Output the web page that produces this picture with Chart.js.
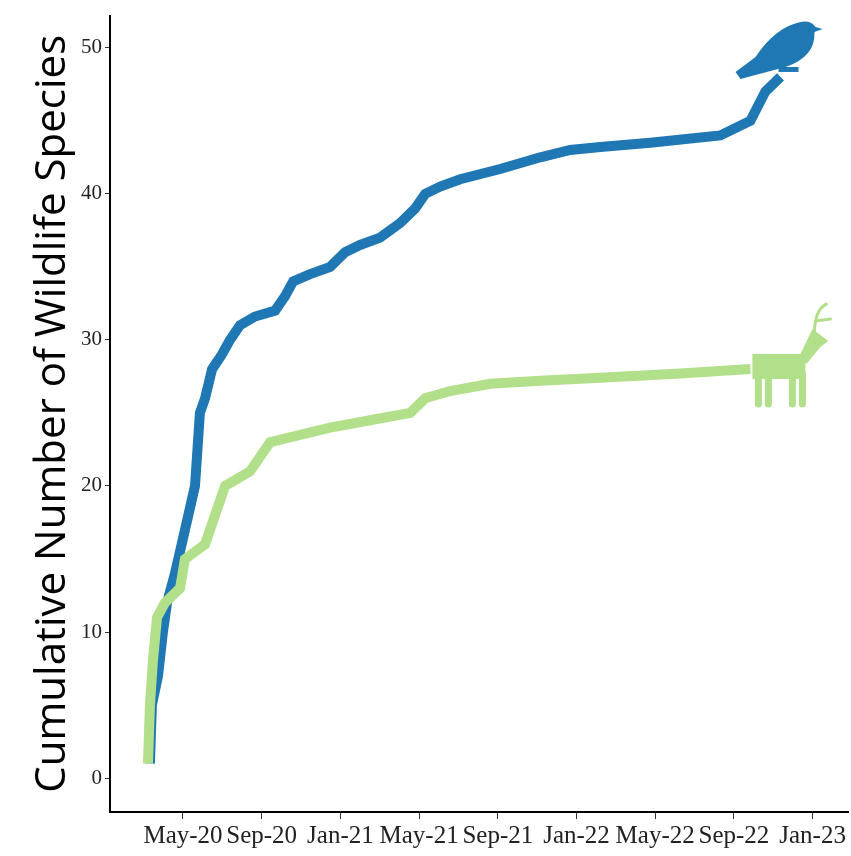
<!DOCTYPE html>
<html><head><meta charset="utf-8">
<script src="https://cdn.jsdelivr.net/npm/chart.js@4"></script>
<style>html,body{margin:0;padding:0;background:#fff}#wrap{width:851px;height:856px}</style>
</head><body><div id="wrap"><canvas id="myChart"></canvas></div>
<script>
// months since Jan 2020
var tickMonths = [4, 8, 12, 16, 20, 24, 28, 32, 36];
var tickLabels = ["May-20", "Sep-20", "Jan-21", "May-21", "Sep-21", "Jan-22", "May-22", "Sep-22", "Jan-23"];
var yTicks = [0, 10, 20, 30, 40, 50];

var birdMonths = [2.32, 2.42, 2.73, 2.98, 3.19, 3.59, 4.10, 4.61, 4.86, 5.12, 5.48, 5.98, 6.39, 6.90, 7.66, 8.68, 9.19, 9.60, 10.46, 11.48, 12.24, 13.00, 14.02, 15.04, 15.80, 16.31, 17.07, 18.09, 20.12, 22.16, 23.68, 25.21, 27.75, 31.31, 32.84, 33.60, 34.37];
var birdCount = [1, 5, 7, 10, 12, 14, 17, 20, 25, 26, 28, 29, 30, 31, 31.6, 32, 33, 34, 34.5, 35, 36, 36.5, 37, 38, 39, 40, 40.5, 41, 41.7, 42.5, 43, 43.2, 43.5, 44, 45, 47, 48];
var mammalMonths = [2.22, 2.32, 2.47, 2.68, 3.08, 3.85, 4.10, 5.12, 6.14, 7.41, 8.43, 9.95, 11.48, 13.51, 15.55, 16.31, 17.58, 19.62, 22.16, 25.21, 29.28, 32.84];
var mammalCount = [1, 5, 8, 11, 12, 13, 15, 16, 20, 21, 23, 23.5, 24, 24.5, 25, 26, 26.5, 27, 27.2, 27.4, 27.7, 28];

function pts(xs, ys) { return xs.map(function (x, i) { return {x: x, y: ys[i]}; }); }

var icons = {
    id: "icons",
    afterDatasetsDraw: function (chart) {
        var ctx = chart.ctx, xs = chart.scales.x, ys = chart.scales.y;
        // bird
        var bx = xs.getPixelForValue(34.37), by = ys.getPixelForValue(48);
        ctx.save();
        ctx.fillStyle = "#1f78b4";
        ctx.beginPath();
        ctx.moveTo(bx - 45, by - 5);
        ctx.lineTo(bx - 25, by - 20);
        ctx.quadraticCurveTo(bx - 5, by - 50, bx + 20, by - 55);
        ctx.quadraticCurveTo(bx + 30, by - 57, bx + 35, by - 50);
        ctx.lineTo(bx + 42, by - 48);
        ctx.lineTo(bx + 34, by - 45);
        ctx.quadraticCurveTo(bx + 35, by - 20, bx + 5, by - 10);
        ctx.lineTo(bx - 40, by + 2);
        ctx.closePath();
        ctx.fill();
        ctx.fillRect(bx - 2, by - 10, 20, 5);
        // deer
        var dx = xs.getPixelForValue(32.84), dy = ys.getPixelForValue(28);
        ctx.fillStyle = "#b2df8a";
        ctx.strokeStyle = "#b2df8a";
        ctx.lineWidth = 7;
        ctx.lineCap = "round";
        ctx.beginPath();
        ctx.moveTo(dx + 2, dy - 15); ctx.lineTo(dx + 55, dy - 15);
        ctx.lineTo(dx + 55, dy + 10); ctx.lineTo(dx + 2, dy + 10); ctx.closePath();
        ctx.fill();
        ctx.beginPath();
        ctx.moveTo(dx + 50, dy - 15); ctx.lineTo(dx + 62, dy - 40); ctx.lineTo(dx + 78, dy - 28);
        ctx.lineTo(dx + 70, dy - 22); ctx.lineTo(dx + 56, dy - 5); ctx.closePath();
        ctx.fill();
        [[8, 35], [18, 35], [42, 35], [52, 35]].forEach(function (l) {
            ctx.beginPath(); ctx.moveTo(dx + l[0], dy + 5); ctx.lineTo(dx + l[0], dy + l[1]); ctx.stroke();
        });
        ctx.lineWidth = 3;
        ctx.beginPath(); ctx.moveTo(dx + 64, dy - 38); ctx.quadraticCurveTo(dx + 65, dy - 60, dx + 76, dy - 65); ctx.stroke();
        ctx.beginPath(); ctx.moveTo(dx + 65, dy - 48); ctx.lineTo(dx + 80, dy - 50); ctx.stroke();
        ctx.restore();
    }
};

new Chart("myChart", {
    type: "line",
    data: {
        datasets: [{
            data: pts(mammalMonths, mammalCount),
            borderColor: "#b2df8a",
            borderWidth: 10,
            pointRadius: 0,
            tension: 0
        }, {
            data: pts(birdMonths, birdCount),
            borderColor: "#1f78b4",
            borderWidth: 10,
            pointRadius: 0,
            tension: 0
        }]
    },
    options: {
        responsive: true,
        maintainAspectRatio: false,
        animation: false,
        layout: {padding: {top: 0, right: 3}},
        plugins: {legend: {display: false}, tooltip: {enabled: false}},
        scales: {
            x: {
                type: "linear",
                min: 0.29,
                max: 37.8,
                afterBuildTicks: function (s) { s.ticks = tickMonths.map(function (v) { return {value: v}; }); },
                afterFit: function (s) { s.height = 44; },
                grid: {drawOnChartArea: false, color: "#333", tickLength: 7},
                border: {color: "#000", width: 2},
                ticks: {
                    autoSkip: false, maxRotation: 0, color: "#222", padding: 2,
                    font: {family: "Liberation Serif", size: 25},
                    callback: function (v) { return tickLabels[tickMonths.indexOf(v)]; }
                }
            },
            y: {
                min: -2.32,
                max: 52.2,
                afterBuildTicks: function (s) { s.ticks = yTicks.map(function (v) { return {value: v}; }); },
                afterFit: function (s) { s.width = 110; },
                grid: {drawOnChartArea: false, color: "#333", tickLength: 5},
                border: {color: "#000", width: 2},
                title: {display: true, text: "Cumulative Number of Wildlife Species", color: "#000",
                    font: {family: "Open Sans", size: 42}, padding: {top: 28, bottom: 0}},
                ticks: {color: "#222", font: {family: "Liberation Serif", size: 21}}
            }
        }
    },
    plugins: [icons]
});
</script></body></html>
